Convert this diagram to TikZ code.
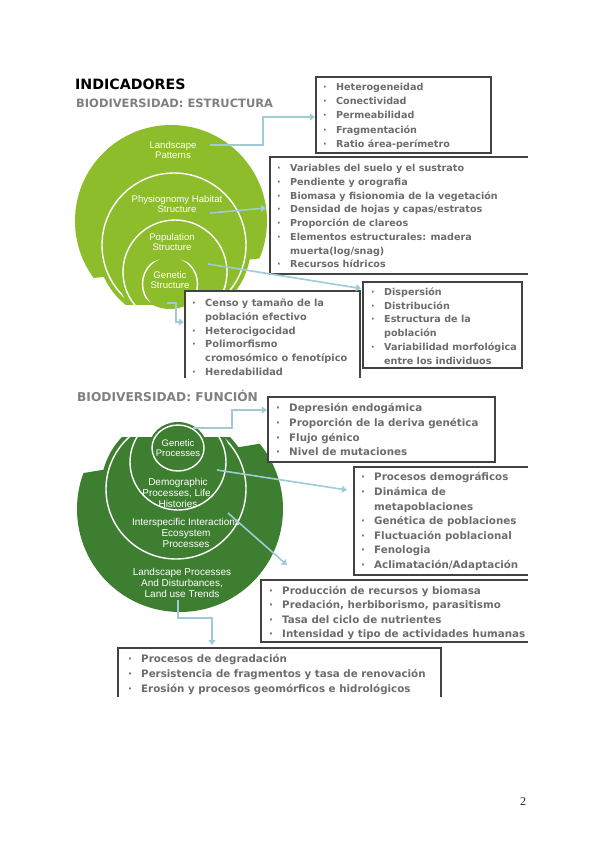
\documentclass[tikz,border=0pt]{standalone}
\usepackage{fontspec}
\setmainfont{DejaVu Sans}
\newfontfamily\labfont{Liberation Sans}
\newfontfamily\numfont{Liberation Serif}
\usetikzlibrary{arrows.meta,fit}
\definecolor{lime}{RGB}{141,189,43}
\definecolor{dgreen}{RGB}{62,126,49}
\definecolor{connc}{RGB}{158,203,214}
\definecolor{bord}{RGB}{66,66,66}
\definecolor{txtc}{RGB}{108,108,108}
\definecolor{ttlc}{RGB}{128,128,128}
\tikzset{
  connector/.style={draw=connc, line width=1.6pt, -{Triangle[length=5pt,width=7pt]}},
  boxline/.style={draw=bord, line width=2.4pt},
  boxarea/.style={inner sep=0pt, outer sep=0pt},
  linetxt/.style={anchor=west, inner sep=0pt, text=txtc, text height=7pt, text depth=0pt},
  titletxt/.style={anchor=west, inner sep=0pt, text depth=0pt},
  ringline/.style={draw=white, line width=1.4pt},
  labU/.style={text=white, align=center, inner sep=0pt, font=\labfont\fontsize{9.6}{10}\selectfont},
  labL/.style={text=white, align=center, inner sep=0pt, font=\labfont\fontsize{10}{11}\selectfont},
}
\newcommand\putlines[6]{%
  \foreach \mk/\txt [count=\i from 0] in {#6}{%
    \node[linetxt, font=\fontsize{#5}{#5}\selectfont\bfseries] (#1\i) at ({#2-13},{#3+\i*#4})
      {\ifnum\mk=1 \makebox[13pt][l]{·}\else\hspace*{13pt}\fi\txt};
  }%
}
\begin{document}
\begin{tikzpicture}[x=1pt,y=-1pt]
\useasboundingbox (0,0) rectangle (600,848);
\fill[white] (0,0) rectangle (600,848);

% ---------- upper green diagram ----------
\begin{scope}
  \clip (40,100) -- (300,100) -- (300,253.6) -- (40,284.4) -- cycle;
  \fill[lime] (171,221) circle (96pt);
\end{scope}
\begin{scope}
  \clip (40,100) rectangle (300,304);
  \fill[lime] (174,245) circle (77pt);
  \draw[ringline] (174,245) circle (72pt);
  \fill[lime] (175,272) circle (57pt);
  \draw[ringline] (175,272) circle (52pt);
\end{scope}
\fill[lime] (170,283) ellipse [x radius=32pt, y radius=26pt];
\begin{scope}
  \clip (170,283) ellipse [x radius=31pt, y radius=25pt];
  \draw[ringline] (170,284) circle (27.5pt);
\end{scope}

% ---------- lower green diagram ----------
\begin{scope}
  \clip (40,480.3) -- (300,437) -- (300,640) -- (40,640) -- cycle;
  \fill[dgreen] (180,509) circle (103pt);
\end{scope}
\begin{scope}
  \clip (40,437) rectangle (300,640);
  \fill[dgreen] (176,489) circle (75pt);
  \draw[ringline] (176,489) circle (70pt);
  \fill[dgreen] (178,462) circle (53pt);
  \draw[ringline] (178,462) circle (48pt);
\end{scope}
\fill[dgreen] (178,448) ellipse [x radius=29pt, y radius=26pt];
\draw[ringline] (178,448) ellipse [x radius=26pt, y radius=23pt];

% ---------- circle labels ----------
\node[labU] (n1) at (173,150) {Landscape\\Patterns};
\node[labU] (n2) at (177,204) {Physiognomy Habitat\\Structure};
\node[labU] (n3) at (172,242) {Population\\Structure};
\node[labU] (n4) at (170,280) {Genetic\\Structure};
\node[labL, font=\labfont\fontsize{9.5}{10.5}\selectfont] (m1) at (178,448) {Genetic\\Processes};
\node[labL] (m2) at (178,492.5) {Demographic\\Processes, Life,\\Histories};
\node[labL] (m3) at (186,533) {Interspecific Interactions\\Ecosystem\\Processes};
\node[labL] (m4) at (182,582.5) {Landscape Processes\\And Disturbances,\\Land use Trends};

% ---------- boxes ----------
\coordinate (Anw) at (316,77);  \coordinate (Ase) at (491,153);
\coordinate (Bnw) at (270,157); \coordinate (Bse) at (528,274);
\coordinate (Cnw) at (363,282); \coordinate (Cse) at (522,368);
\coordinate (Dnw) at (185,291); \coordinate (Dse) at (360,378);
\coordinate (Enw) at (268,397); \coordinate (Ese) at (495,462);
\coordinate (Fnw) at (354,467); \coordinate (Fse) at (528,575);
\coordinate (Gnw) at (261,580); \coordinate (Gse) at (528,642);
\coordinate (Hnw) at (118,648); \coordinate (Hse) at (441,697);
\foreach \bx in {A,B,C,D,E,F,G,H}{
  \node[boxarea, fit=(\bx nw)(\bx se)] (\bx) {};
  \fill[white] (\bx.north west) rectangle (\bx.south east);
}
\draw[boxline] (A.north west) rectangle (A.south east);
\draw[boxline] (C.north west) rectangle (C.south east);
\draw[boxline] (E.north west) rectangle (E.south east);
\draw[boxline] (B.north east) -- (B.north west) -- (B.south west) -- (B.south east);
\draw[boxline] (F.north east) -- (F.north west) -- (F.south west) -- (F.south east);
\draw[boxline] (G.north east) -- (G.north west) -- (G.south west) -- (G.south east);
\draw[boxline] (D.south west) -- (D.north west) -- (D.north east) -- (D.south east);
\draw[boxline] (H.south west) -- (H.north west) -- (H.north east) -- (H.south east);

% ---------- box texts ----------
\putlines{At}{336}{87.5}{14}{9.6}{1/Heterogeneidad,1/Conectividad,1/Permeabilidad,1/Fragmentación,1/Ratio área-perímetro}
\putlines{Bt}{290}{168.3}{13.72}{9.6}{1/Variables del suelo y el sustrato,1/Pendiente y orografia,1/Biomasa y fisionomia de la vegetación,1/{Densidad de hojas y capas/estratos},1/Proporción de clareos,1/{Elementos estructurales: madera},0/{muerta(log/snag)},1/Recursos hídricos}
\putlines{Ct}{384}{291.7}{13.8}{9.6}{1/Dispersión,1/Distribución,1/Estructura de la,0/población,1/Variabilidad morfológica,0/entre los individuos}
\putlines{Dt}{205}{303.3}{13.7}{9.8}{1/Censo y tamaño de la,0/población efectivo,1/Heterocigocidad,1/Polimorfismo,0/cromosómico o fenotípico,1/Heredabilidad}
\putlines{Et}{289}{408.3}{14.7}{10.3}{1/Depresión endogámica,1/Proporción de la deriva genética,1/Flujo génico,1/Nivel de mutaciones}
\putlines{Ft}{374}{477.3}{14.6}{10.3}{1/Procesos demográficos,1/Dinámica de,0/metapoblaciones,1/Genética de poblaciones,1/Fluctuación poblacional,1/Fenologia,1/{Aclimatación/Adaptación}}
\putlines{Gt}{282}{590.7}{14.5}{10.3}{1/Producción de recursos y biomasa,1/{Predación, herbiborismo, parasitismo},1/Tasa del ciclo de nutrientes,1/Intensidad y tipo de actividades humanas}
\putlines{Ht}{141}{659.3}{14.9}{10.3}{1/Procesos de degradación,1/Persistencia de fragmentos y tasa de renovación,1/Erosión y procesos geomórficos e hidrológicos}

% ---------- connectors ----------
\coordinate (s1) at (210,145); \coordinate (k1a) at (263,145); \coordinate (k1b) at (263,117);
\draw[connector, shorten >=1.2pt] (s1) -- (k1a) -- (k1b) -- (k1b -| A.west);
\coordinate (s2) at (210,213); \coordinate (e2) at (266,208);
\draw[connector] (s2) -- (e2);
\coordinate (s3) at (208,264); \coordinate (e3) at (361,288.5);
\draw[connector] (s3) -- (e3);
\coordinate (s4) at (167,303); \coordinate (k4a) at (176,303); \coordinate (k4b) at (176,322);
\draw[connector, shorten >=1.2pt] (s4) -- (k4a) -- (k4b) -- (k4b -| D.west);
\coordinate (s5) at (193,428); \coordinate (k5a) at (232,428); \coordinate (k5b) at (232,410);
\draw[connector, shorten >=1.2pt] (s5) -- (k5a) -- (k5b) -- (k5b -| E.west);
\coordinate (s6) at (217,470); \coordinate (e6) at (347,490);
\draw[connector] (s6) -- (e6);
\coordinate (s7) at (228,513); \coordinate (e7) at (287,565);
\draw[connector] (s7) -- (e7);
\coordinate (s8) at (178,600); \coordinate (k8a) at (178,618); \coordinate (k8b) at (212,618);
\draw[connector, shorten >=3pt] (s8) -- (k8a) -- (k8b) -- (k8b |- H.north);

% ---------- titles ----------
\node[titletxt, text height=10pt, font=\fontsize{14.2}{14}\selectfont\bfseries] (t1) at (75,85) {INDICADORES};
\node[titletxt, text height=8pt, text=ttlc, font=\fontsize{11.5}{12}\selectfont\bfseries] (t2) at (76,104) {BIODIVERSIDAD: ESTRUCTURA};
\node[titletxt, text height=8.8pt, text=ttlc, font=\fontsize{12.2}{12}\selectfont\bfseries] (t3) at (77,397) {BIODIVERSIDAD: FUNCIÓN};
\node[inner sep=0pt, text=black!85, font=\numfont\fontsize{12}{12}\selectfont] (pg) at (523,802) {2};
\end{tikzpicture}
\end{document}
